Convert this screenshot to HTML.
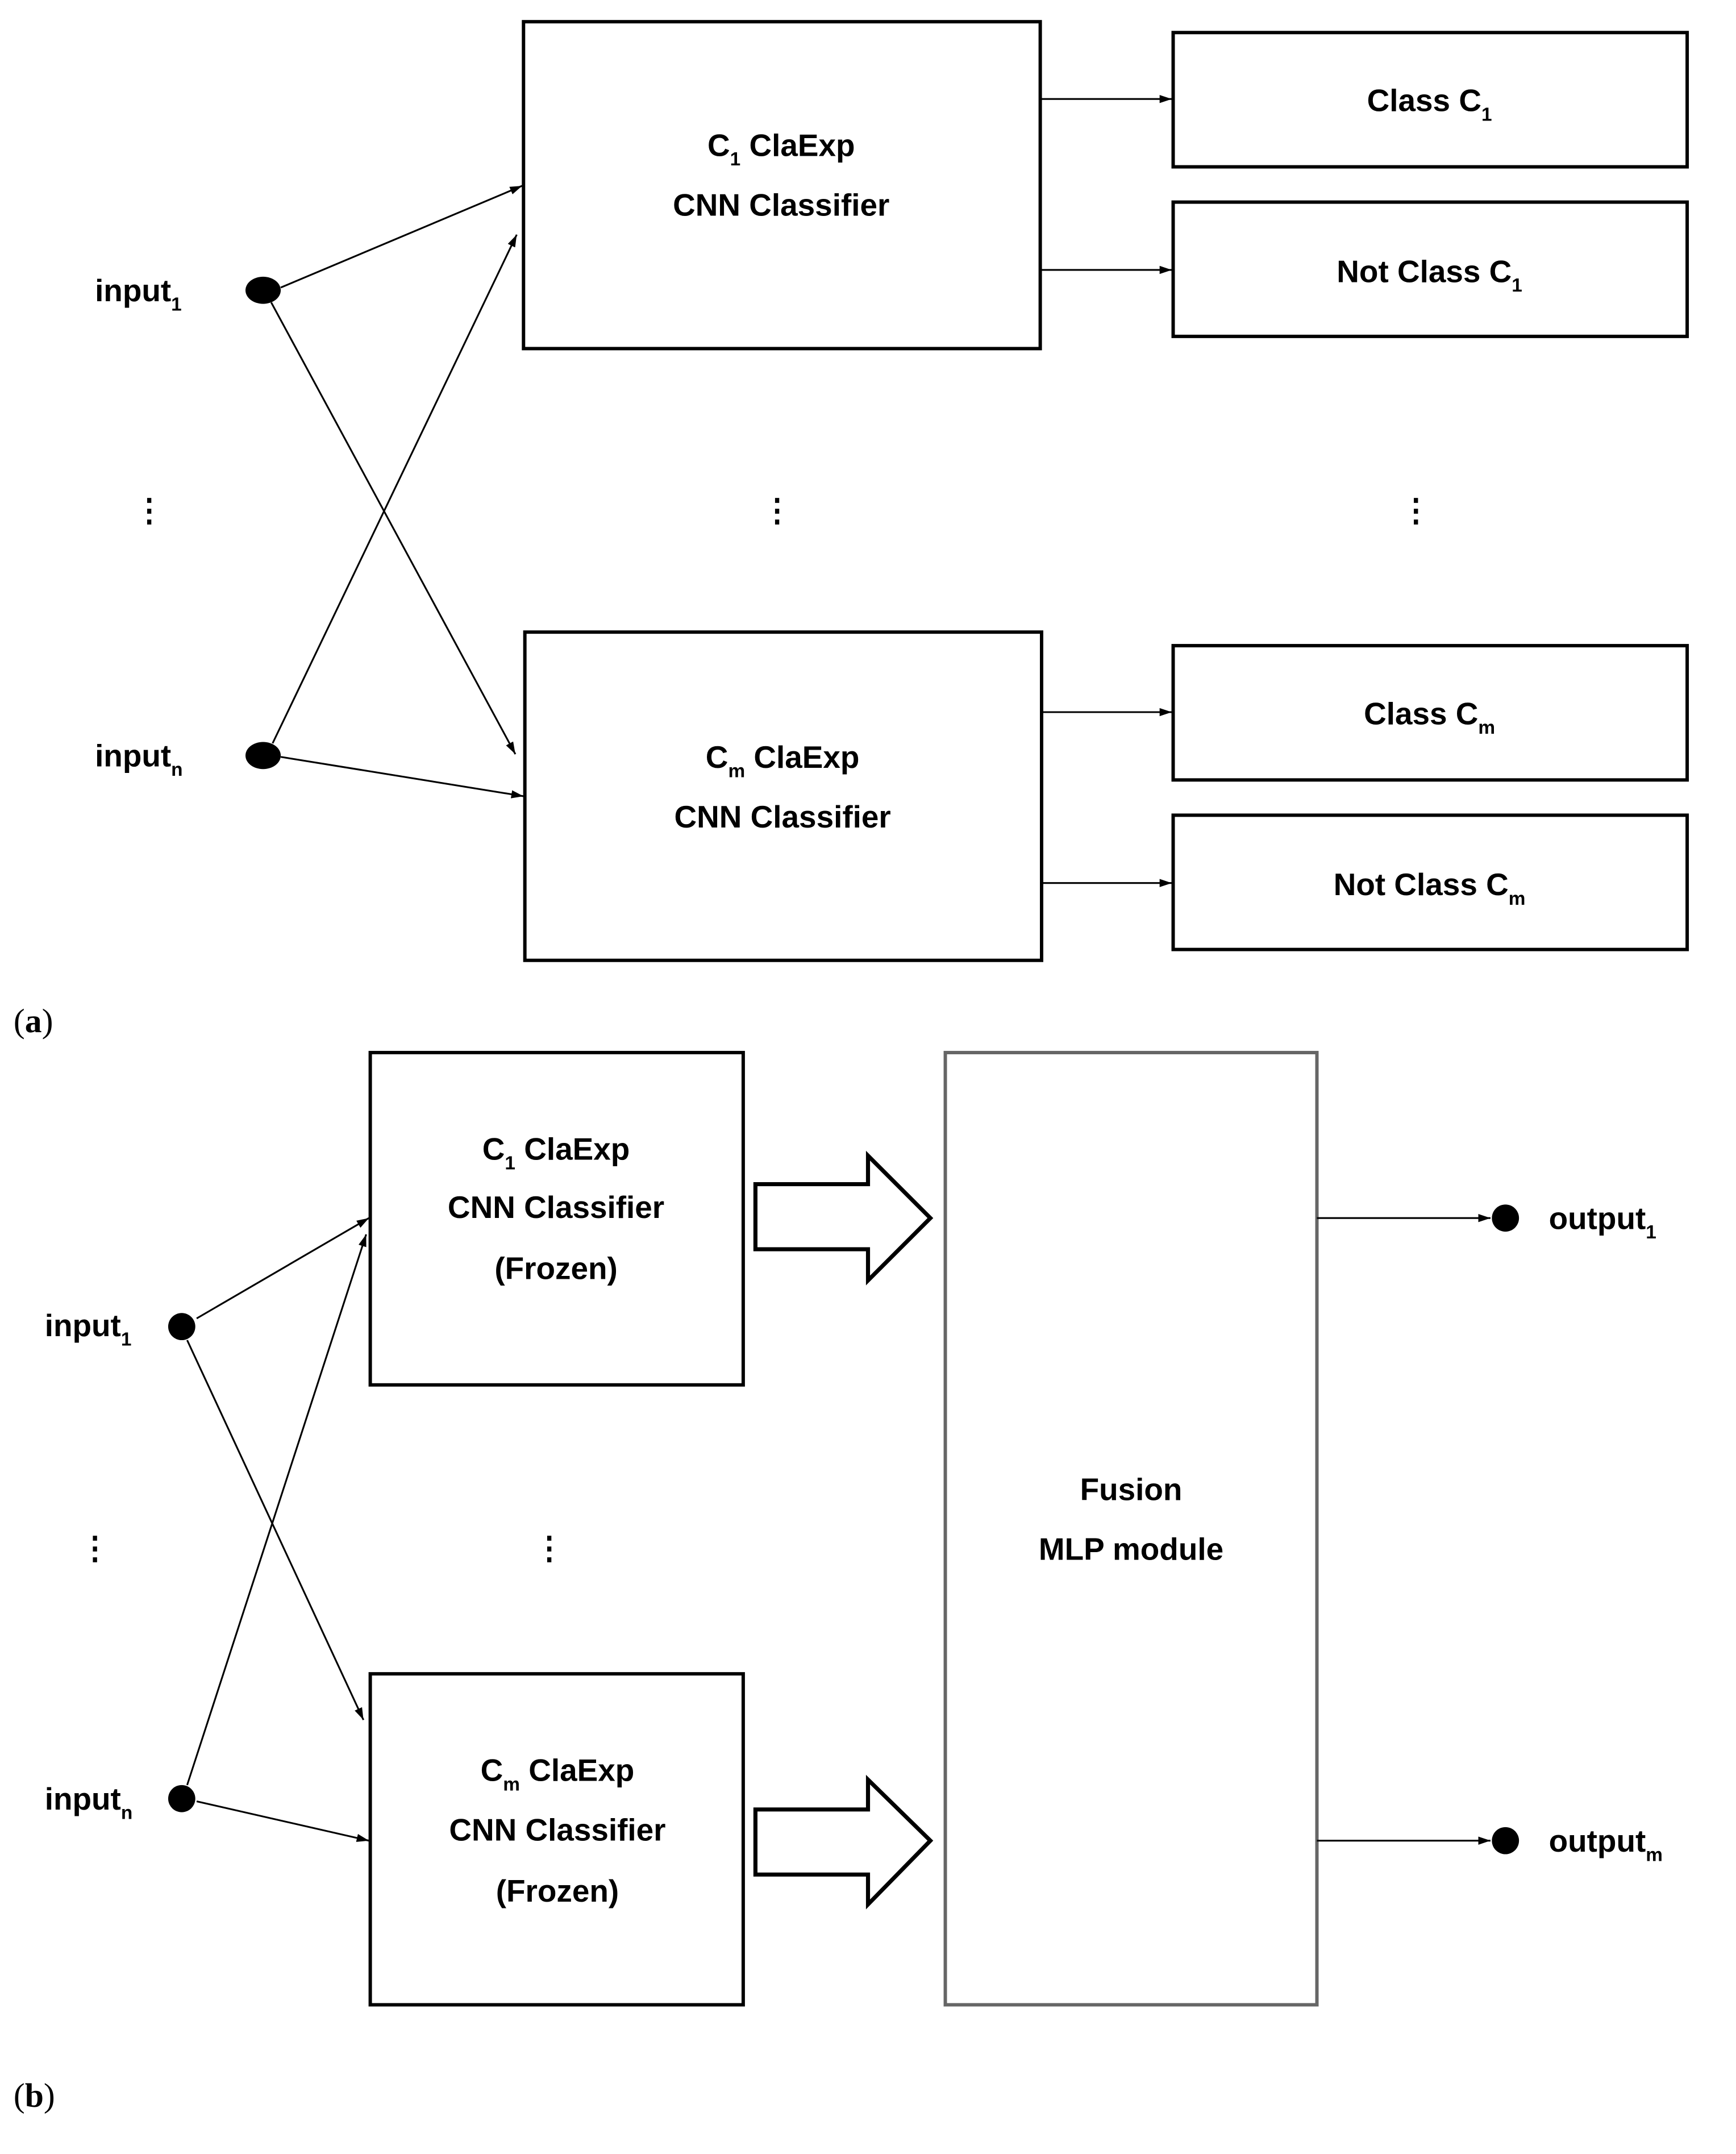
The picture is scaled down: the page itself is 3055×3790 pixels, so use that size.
<!DOCTYPE html>
<html><head><style>html,body{margin:0;padding:0;background:#fff}svg{display:block}</style></head>
<body>
<svg xmlns="http://www.w3.org/2000/svg" width="3055" height="3790" viewBox="0 0 1280 1588" preserveAspectRatio="none">
<defs>
<marker id="ah" markerWidth="10" markerHeight="8" refX="9" refY="4" orient="auto" markerUnits="userSpaceOnUse">
<path d="M0,1 L9,4 L0,7 z" fill="#000"/></marker>
</defs>
<g font-family="Liberation Sans, Arial, sans-serif" font-weight="bold" font-size="23" fill="#000">
<!-- (a) -->
<g fill="none" stroke="#000" stroke-width="2.5">
<rect x="386" y="16" width="381" height="241"/>
<rect x="387" y="466" width="381" height="242"/>
<rect x="865" y="24" width="379" height="99"/>
<rect x="865" y="149" width="379" height="99"/>
<rect x="865" y="476" width="379" height="99"/>
<rect x="865" y="601" width="379" height="99"/>
</g>
<g stroke="#000" stroke-width="1.3" fill="none" marker-end="url(#ah)">
<line x1="207" y1="212" x2="385" y2="137"/>
<line x1="200" y1="223" x2="380" y2="556"/>
<line x1="201" y1="548" x2="381" y2="173"/>
<line x1="207" y1="558" x2="386" y2="587"/>
<line x1="767" y1="73" x2="864" y2="73"/>
<line x1="767" y1="199" x2="864" y2="199"/>
<line x1="768" y1="525" x2="864" y2="525"/>
<line x1="768" y1="651" x2="864" y2="651"/>
</g>
<ellipse cx="194" cy="214" rx="13" ry="10"/>
<ellipse cx="194" cy="557" rx="13" ry="10"/>
<text x="70" y="222">input<tspan font-size="14" dy="7">1</tspan></text>
<text x="70" y="565">input<tspan font-size="14" dy="7">n</tspan></text>
<g text-anchor="middle">
<text x="576" y="115">C<tspan font-size="14" dy="7">1</tspan><tspan dy="-7"> ClaExp</tspan></text>
<text x="576" y="159">CNN Classifier</text>
<text x="577" y="566">C<tspan font-size="14" dy="7">m</tspan><tspan dy="-7"> ClaExp</tspan></text>
<text x="577" y="610">CNN Classifier</text>
<text x="1054" y="82">Class C<tspan font-size="14" dy="7">1</tspan></text>
<text x="1054" y="208">Not Class C<tspan font-size="14" dy="7">1</tspan></text>
<text x="1054" y="534">Class C<tspan font-size="14" dy="7">m</tspan></text>
<text x="1054" y="660">Not Class C<tspan font-size="14" dy="7">m</tspan></text>
<text x="110" y="384">⋮</text>
<text x="573" y="384">⋮</text>
<text x="1044" y="384">⋮</text>
</g>
<text x="10" y="761" font-family="Liberation Serif, serif" font-weight="normal" font-size="25">(<tspan font-weight="bold">a</tspan>)</text>
<!-- (b) -->
<g fill="none" stroke="#000" stroke-width="2.5">
<rect x="273" y="776" width="275" height="245"/>
<rect x="273" y="1234" width="275" height="244"/>
<rect x="697" y="776" width="274" height="702" stroke="#666"/>
<path d="M557,873 H640 V852 L686,898 L640,944 V921 H557 Z" stroke-width="3"/>
<path d="M557,1334 H640 V1312 L686,1357 L640,1404 V1382 H557 Z" stroke-width="3"/>
</g>
<g stroke="#000" stroke-width="1.3" fill="none" marker-end="url(#ah)">
<line x1="145" y1="972" x2="272" y2="898"/>
<line x1="138" y1="988" x2="268" y2="1268"/>
<line x1="138" y1="1316" x2="270" y2="910"/>
<line x1="145" y1="1328" x2="272" y2="1357"/>
<line x1="971" y1="898" x2="1099" y2="898"/>
<line x1="971" y1="1357" x2="1099" y2="1357"/>
</g>
<circle cx="134" cy="978" r="10"/>
<circle cx="134" cy="1326" r="10"/>
<circle cx="1110" cy="898" r="10"/>
<circle cx="1110" cy="1357" r="10"/>
<text x="33" y="985">input<tspan font-size="14" dy="7">1</tspan></text>
<text x="33" y="1334">input<tspan font-size="14" dy="7">n</tspan></text>
<text x="1142" y="906">output<tspan font-size="14" dy="7">1</tspan></text>
<text x="1142" y="1365">output<tspan font-size="14" dy="7">m</tspan></text>
<g text-anchor="middle">
<text x="410" y="855">C<tspan font-size="14" dy="7">1</tspan><tspan dy="-7"> ClaExp</tspan></text>
<text x="410" y="898">CNN Classifier</text>
<text x="410" y="943">(Frozen)</text>
<text x="411" y="1313">C<tspan font-size="14" dy="7">m</tspan><tspan dy="-7"> ClaExp</tspan></text>
<text x="411" y="1357">CNN Classifier</text>
<text x="411" y="1402">(Frozen)</text>
<text x="834" y="1106">Fusion</text>
<text x="834" y="1150">MLP module</text>
<text x="70" y="1149">⋮</text>
<text x="405" y="1149">⋮</text>
</g>
<text x="10" y="1553" font-family="Liberation Serif, serif" font-weight="normal" font-size="25">(<tspan font-weight="bold">b</tspan>)</text>
</g>
</svg>
</body></html>
